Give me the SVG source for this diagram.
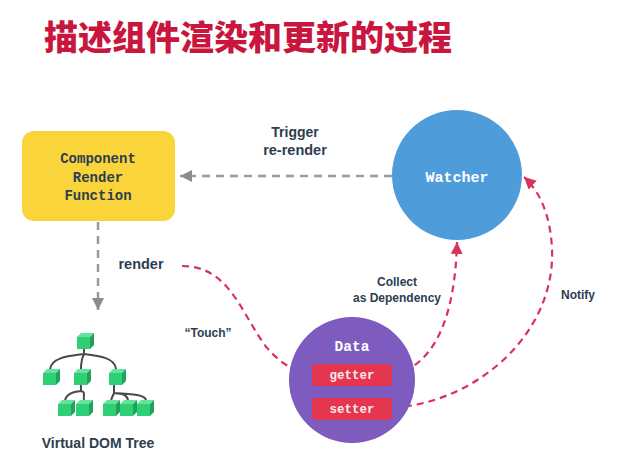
<svg xmlns="http://www.w3.org/2000/svg" width="626" height="469" viewBox="0 0 626 469">
<style>
.title{font-family:"Noto Sans CJK SC","Noto Sans",sans-serif;font-weight:900;font-size:34px;fill:#c8163e}
.mono{font-family:"Liberation Mono","DejaVu Sans Mono",monospace;font-weight:bold;text-anchor:middle}
.lbl{font-family:"Liberation Sans",Arial,sans-serif;font-weight:bold;fill:#2c3e50;text-anchor:middle}
.gray{fill:none;stroke:#9a9a9a;stroke-width:2.5;stroke-dasharray:8 6}
.red{fill:none;stroke:#d9335a;stroke-width:2.2;stroke-dasharray:7 5}
.front{fill:#2ecf75}
.top{fill:#63e39b}
.side{fill:#1fa35a}
.branch{fill:none;stroke:#4a4a4a;stroke-width:2}
</style>
<defs>
<marker id="ag" markerUnits="userSpaceOnUse" markerWidth="14" markerHeight="14" refX="12" refY="6" orient="auto"><path d="M0,0 L12,6 L0,12 Z" fill="#8c8c8c"/></marker>
<marker id="ar" markerUnits="userSpaceOnUse" markerWidth="14" markerHeight="14" refX="12" refY="6" orient="auto"><path d="M0,0 L12,6 L0,12 Z" fill="#d9335a"/></marker>
<g id="cube"><path class="top" d="M0,0 L4,-4 L17,-4 L13,0 Z"/><path class="side" d="M13,0 L17,-4 L17,8 L13,12 Z"/><rect class="front" x="0" y="0" width="13" height="12"/></g>
</defs>
<rect width="626" height="469" fill="#ffffff"/>
<text class="title" x="44" y="50">描述组件渲染和更新的过程</text>

<g id="connectors">
<path class="gray" d="M392,176 L180,176" marker-end="url(#ag)"/>
<path class="gray" d="M98,222 L98,310" marker-end="url(#ag)"/>
<path class="red" d="M182,266 C228,266 240,310 264,344 C276,360 292,371 311,375" marker-end="url(#ar)"/>
<path class="red" d="M393,375 C432,366 455,322 457,242" marker-end="url(#ar)"/>
<path class="red" d="M393,408 C482,401 556,330 552,248 C550,214 540,192 524,177" marker-end="url(#ar)"/>
<text class="lbl" x="295" y="137" font-size="14">Trigger</text>
<text class="lbl" x="295" y="155" font-size="14.5">re-render</text>
<text class="lbl" x="141" y="269" font-size="14.5">render</text>
<text class="lbl" x="208" y="337" font-size="12">“Touch”</text>
<text class="lbl" x="397" y="286" font-size="12">Collect</text>
<text class="lbl" x="397" y="302" font-size="12">as Dependency</text>
<text class="lbl" x="578" y="299" font-size="12">Notify</text>
</g>

<g id="component-render">
<rect x="22" y="131" width="153" height="90" rx="12" fill="#f9d43a"/>
<text class="mono" x="98" y="163" font-size="14" fill="#2c3e50">Component</text>
<text class="mono" x="98" y="182" font-size="14" fill="#2c3e50">Render</text>
<text class="mono" x="98" y="200" font-size="14" fill="#2c3e50">Function</text>
</g>

<g id="watcher">
<circle cx="457" cy="175" r="65" fill="#4f9cdb"/>
<text class="mono" x="457" y="182" font-size="15" fill="#ffffff">Watcher</text>
</g>

<g id="data">
<circle cx="352" cy="380" r="63" fill="#7d5bbf"/>
<text class="mono" x="352" y="351" font-size="14.5" fill="#ffffff">Data</text>
<rect x="312" y="364" width="80" height="22" rx="3" fill="#e4364f"/>
<text class="mono" x="352" y="379" font-size="12.5" fill="#fbeaea">getter</text>
<rect x="312" y="398" width="80" height="22" rx="3" fill="#e4364f"/>
<text class="mono" x="352" y="413" font-size="12.5" fill="#fbeaea">setter</text>
</g>

<g id="virtual-dom-tree">
<path class="branch" d="M84,349 L84,354 M84,354 C70,356 52,357 50,369 M84,354 C82,358 81,362 81,369 M84,354 C100,356 115,358 116,369"/>
<path class="branch" d="M81,385 L81,391 C72,392 67,394 65,400 M81,391 C86,392 83,395 84,400"/>
<path class="branch" d="M114,385 L114,393 L111,400 M114,393 C124,394 127,395 128,400 M114,393 C134,394 145,395 146,400"/>
<use href="#cube" x="77" y="337"/>
<use href="#cube" x="43" y="373"/>
<use href="#cube" x="74" y="373"/>
<use href="#cube" x="109" y="373"/>
<use href="#cube" x="58" y="404"/>
<use href="#cube" x="76" y="404"/>
<use href="#cube" x="103" y="404"/>
<use href="#cube" x="120" y="404"/>
<use href="#cube" x="137" y="404"/>
<text class="lbl" x="98" y="448" font-size="14">Virtual DOM Tree</text>
</g>
</svg>
